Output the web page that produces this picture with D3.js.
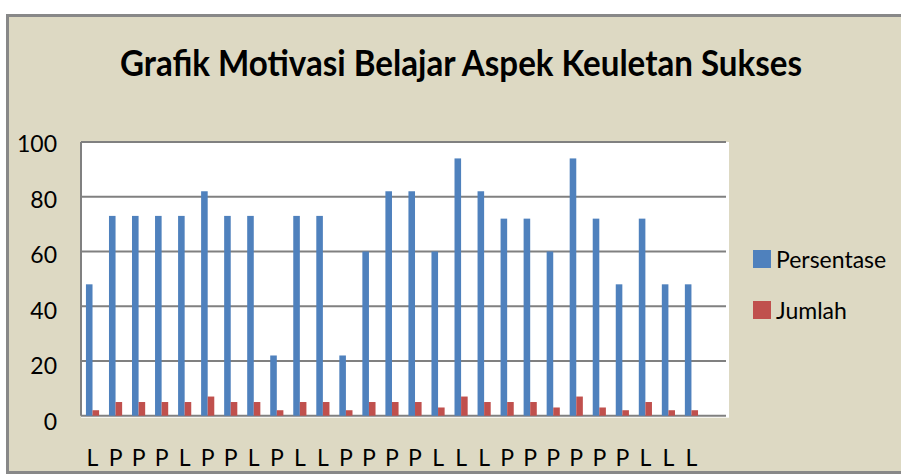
<!DOCTYPE html>
<html>
<head>
<meta charset="utf-8">
<script src="https://cdn.jsdelivr.net/npm/d3@7"></script>
<style>
  body { margin: 0; background: #fff; }
  svg { display: block; }
</style>
</head>
<body>
<svg width="901" height="474"></svg>
<script>
// labels under each group (last slot is empty in the original chart)
const categories = ["L","P","P","P","L","P","P","L","P","L","L","P","P","P","P","L","L","L","P","P","P","P","P","P","L","L","L",""];
const persentase = [48,73,73,73,73,82,73,73,22,73,73,22,60,82,82,60,94,82,72,72,60,94,72,48,72,48,48];
const jumlah     = [2,5,5,5,5,7,5,5,2,5,5,2,5,5,5,3,7,5,5,5,3,7,3,2,5,2,2];
const seriesNames = ["Persentase", "Jumlah"];
const seriesColors = ["#4F81BD", "#C0504D"];
const yTicks = [0, 20, 40, 60, 80, 100];

const svg = d3.select("svg");
const font = "Lato, 'Open Sans', sans-serif";
const margin = { top: 142, right: 175, bottom: 57, left: 81 };
const plotW = 726 - margin.left;
const plotH = 415.7 - margin.top;

// chart frame
svg.append("rect")
  .attr("x", 7.5).attr("y", 15.5)
  .attr("width", 910).attr("height", 457)
  .attr("fill", "#DDD9C3")
  .attr("stroke", "#888").attr("stroke-width", 3);

svg.append("text")
  .attr("x", 461).attr("y", 76)
  .attr("text-anchor", "middle")
  .attr("font-family", font)
  .attr("font-weight", "bold")
  .attr("font-size", "36px")
  .attr("textLength", 682)
  .attr("lengthAdjust", "spacingAndGlyphs")
  .attr("fill", "#000")
  .text("Grafik Motivasi Belajar Aspek Keuletan Sukses");

const g = svg.append("g").attr("transform", `translate(${margin.left},${margin.top})`);

const x = d3.scaleBand().domain(d3.range(categories.length)).range([0, plotW]).padding(0);
const x1 = d3.scaleBand().domain(seriesNames).range([0, x.bandwidth()]).paddingInner(0).paddingOuter(0.75);
const y = d3.scaleLinear().domain([0, 100]).range([plotH, 0]);

g.append("rect")
  .attr("x", 0).attr("y", 0)
  .attr("width", plotW + 3).attr("height", plotH + 2)
  .attr("fill", "#fff");

g.selectAll(".grid")
  .data(yTicks)
  .join("line")
  .attr("class", "grid")
  .attr("x1", 0).attr("x2", plotW)
  .attr("y1", d => y(d)).attr("y2", d => y(d))
  .attr("stroke", "#808080")
  .attr("stroke-width", 2);

g.append("line")
  .attr("x1", 0).attr("x2", 0)
  .attr("y1", 0).attr("y2", plotH)
  .attr("stroke", "#808080").attr("stroke-width", 2);

const rows = persentase.map((v, i) => [v, jumlah[i]]);

g.selectAll(".group")
  .data(rows)
  .join("g")
  .attr("class", "group")
  .attr("transform", (d, i) => `translate(${x(i)},0)`)
  .selectAll("rect")
  .data(d => d.map((v, k) => ({ v, k })))
  .join("rect")
  .attr("x", d => x1(seriesNames[d.k]))
  .attr("width", x1.bandwidth())
  .attr("y", d => y(d.v))
  .attr("height", d => plotH - y(d.v))
  .attr("fill", d => seriesColors[d.k]);

// y tick labels
svg.selectAll(".ylab")
  .data(yTicks)
  .join("text")
  .attr("class", "ylab")
  .attr("x", 57)
  .attr("y", d => margin.top + y(d) * 1.015 + 2)
  .attr("dy", "0.35em")
  .attr("text-anchor", "end")
  .attr("font-family", font)
  .attr("font-size", "23px")
  .attr("fill", "#000")
  .text(d => d);

// x labels
svg.selectAll(".xlab")
  .data(categories)
  .join("text")
  .attr("class", "xlab")
  .attr("x", (d, i) => margin.left + x(i) + x.bandwidth() / 2)
  .attr("y", 465.5)
  .attr("text-anchor", "middle")
  .attr("font-family", font)
  .attr("font-size", "23px")
  .attr("fill", "#000")
  .text(d => d);

// legend
const legend = svg.selectAll(".legend")
  .data(seriesNames)
  .join("g")
  .attr("class", "legend")
  .attr("transform", (d, i) => `translate(753,${250 + i * 51})`);

legend.append("rect")
  .attr("width", 18).attr("height", 18)
  .attr("fill", (d, i) => seriesColors[i]);

legend.append("text")
  .attr("x", 23).attr("y", 18)
  .attr("font-family", font)
  .attr("font-size", "23px")
  .attr("fill", "#000")
  .text(d => d);
</script>
</body>
</html>
